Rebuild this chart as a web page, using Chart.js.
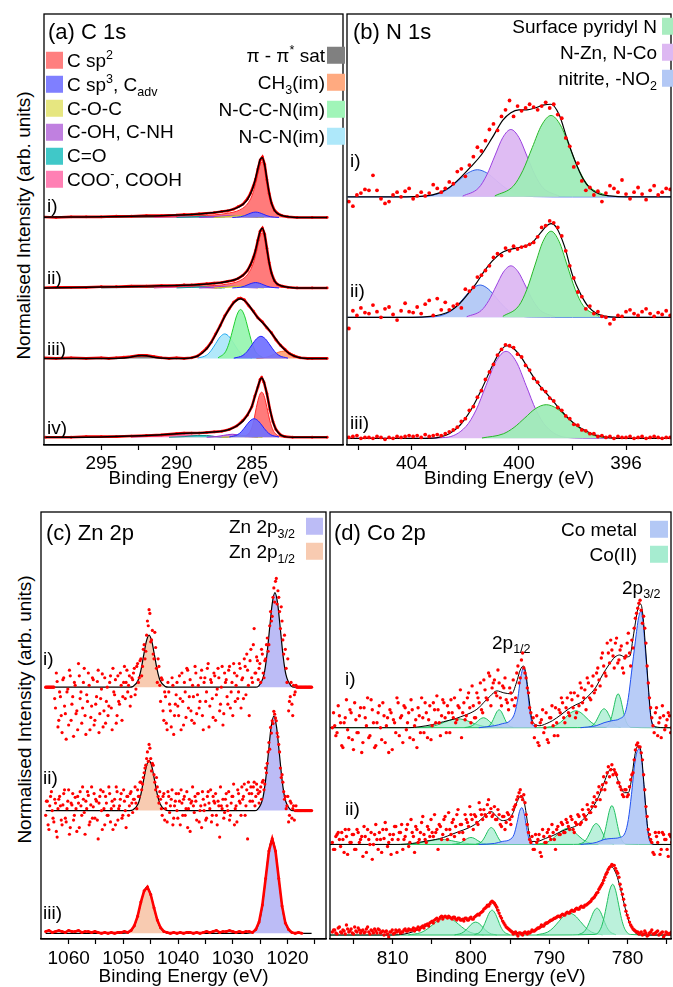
<!DOCTYPE html>
<html>
<head>
<meta charset="utf-8">
<script src="https://cdn.jsdelivr.net/npm/chart.js@4.4.1/dist/chart.umd.min.js"></script>
<style>
  html, body { margin: 0; padding: 0; background: #fff; }
  body { position: relative; width: 673px; height: 987px; overflow: hidden; font-family: "Liberation Sans", Arial, sans-serif; color: #000; }
  canvas { position: absolute; }
  .lbl { position: absolute; transform: translateY(-50%); white-space: nowrap; line-height: 1; z-index: 2; }
  .lbl sub, .lbl sup { font-size: 0.66em; line-height: 0; }
  .box { display: inline-block; width: 17px; height: 17px; vertical-align: middle; }
  .ytitle { position: absolute; width: 320px; text-align: center; font-size: 19px; line-height: 1; transform: rotate(-90deg); white-space: nowrap; }
</style>
</head>
<body>
<canvas id="cA" width="307" height="480" style="left:40px;top:10px"></canvas>
<canvas id="cB" width="332" height="480" style="left:343px;top:10px"></canvas>
<canvas id="cC" width="293" height="480" style="left:37px;top:508px"></canvas>
<canvas id="cD" width="349" height="480" style="left:326px;top:508px"></canvas>
<script>
// ---------- (a) C 1s ----------
const aTicks = [295, 292.5, 290, 287.5, 285, 282.5];
const aLabels = [295, 290, 285];
const aOffsets = [3.81, 2.63, 1.45, 0.13];

const a1Data = [[299,0.01],[298,0],[297,0.01],[296,0.01],[295,0.01],[294,0.02],[293,0.02],[292,0.03],[291,0.03],[290,0.04],[289.5,0.05],[289,0.05],[288.5,0.06],[288,0.07],[287.5,0.08],[287,0.10],[286.6,0.11],[286.2,0.14],[285.9,0.18],[285.6,0.22],[285.3,0.31],[285.1,0.40],[284.9,0.53],[284.75,0.64],[284.6,0.81],[284.45,0.96],[284.3,1.01],[284.15,0.89],[284.0,0.63],[283.85,0.40],[283.7,0.24],[283.5,0.12],[283.3,0.07],[283.0,0.03],[282.6,0.01],[282,0],[281,0],[280,0]];
const a1Fit = [[299,0.005],[297,0.008],[295,0.01],[293,0.02],[291,0.03],[290,0.04],[289,0.05],[288,0.07],[287,0.10],[286.5,0.12],[286,0.16],[285.6,0.22],[285.3,0.30],[285.0,0.45],[284.8,0.61],[284.6,0.82],[284.45,0.97],[284.3,1.0],[284.15,0.88],[284.0,0.64],[283.85,0.41],[283.7,0.24],[283.5,0.12],[283.2,0.05],[282.8,0.02],[282.3,0.005],[281,0],[280,0]];
const a1Sp2 = [[296,0],[292,0.01],[290,0.02],[289,0.025],[288,0.035],[287,0.055],[286.5,0.075],[286,0.105],[285.6,0.155],[285.3,0.225],[285.0,0.36],[284.8,0.52],[284.6,0.74],[284.45,0.89],[284.3,0.93],[284.15,0.83],[284.0,0.61],[283.85,0.39],[283.7,0.23],[283.5,0.11],[283.2,0.045],[282.8,0.015],[282.3,0.004],[281.5,0]];
const a2Data = [[299,0],[298,0.01],[297,0.01],[296,0.01],[295,0.02],[294,0.02],[293,0.03],[292,0.03],[291,0.04],[290,0.04],[289.5,0.05],[289,0.05],[288.5,0.06],[288,0.07],[287.5,0.08],[287,0.09],[286.6,0.11],[286.2,0.13],[285.9,0.16],[285.6,0.21],[285.3,0.29],[285.1,0.38],[284.9,0.51],[284.75,0.63],[284.6,0.80],[284.45,0.95],[284.3,1.0],[284.15,0.90],[284.0,0.66],[283.85,0.42],[283.7,0.25],[283.5,0.12],[283.3,0.06],[283.0,0.03],[282.6,0.01],[282,0],[281,0],[280,0]];
const a2Fit = [[299,0],[295,0.015],[293,0.025],[291,0.035],[290,0.04],[289,0.05],[288,0.065],[287,0.09],[286.5,0.115],[286,0.15],[285.6,0.21],[285.3,0.29],[285.0,0.44],[284.8,0.59],[284.6,0.80],[284.45,0.95],[284.3,1.0],[284.15,0.89],[284.0,0.65],[283.85,0.42],[283.7,0.25],[283.5,0.12],[283.2,0.05],[282.8,0.02],[282.3,0.005],[281,0],[280,0]];
const a2Sp2 = [[292,0.01],[290,0.02],[289,0.025],[288,0.035],[287,0.05],[286.5,0.07],[286,0.10],[285.6,0.15],[285.3,0.22],[285.0,0.35],[284.8,0.50],[284.6,0.72],[284.45,0.87],[284.3,0.92],[284.15,0.83],[284.0,0.61],[283.85,0.39],[283.7,0.23],[283.5,0.11],[283.2,0.045],[282.8,0.015],[282.3,0.004],[281.5,0]];
const a12Sp3 = [[286.3,0],[285.75,0.012],[285.5,0.029],[285.25,0.055],[285.0,0.079],[284.75,0.09],[284.5,0.079],[284.25,0.055],[284.0,0.029],[283.75,0.012],[283.2,0]];
const a12COC = [[287.5,0],[286.8,0.01],[286.2,0.025],[285.7,0.03],[285.2,0.02],[284.7,0.005],[284.2,0]];
const a12COH = [[288.5,0],[287.7,0.01],[287,0.025],[286.4,0.03],[285.8,0.02],[285.2,0.005],[284.6,0]];
const a12CO = [[290,0],[289,0.01],[288.3,0.02],[287.6,0.01],[286.8,0]];
const a12COO = [[291.5,0],[290.5,0.01],[289.5,0.02],[288.8,0.015],[288,0.005],[287.3,0]];
const a12Sat = [[295,0],[293,0.008],[291,0.012],[289,0.008],[287,0]];

const a3Data = [[299,0.01],[298,0],[297,0.01],[296,0],[295,0.01],[294.5,0],[294,0.01],[293.5,0.02],[293,0.03],[292.5,0.05],[292,0.05],[291.5,0.03],[291,0.01],[290.5,0],[290,0.01],[289.5,0],[289,0.01],[288.6,0.04],[288.3,0.10],[288.0,0.17],[287.7,0.27],[287.4,0.41],[287.1,0.55],[286.8,0.71],[286.5,0.83],[286.2,0.94],[285.9,1.0],[285.75,1.01],[285.5,0.98],[285.2,0.88],[284.9,0.79],[284.6,0.68],[284.3,0.61],[284.0,0.51],[283.7,0.43],[283.4,0.31],[283.1,0.22],[282.8,0.15],[282.5,0.08],[282.2,0.04],[281.8,0.01],[281.3,0],[281,0],[280,0]];
const a3Fit = [[299,0],[295,0],[294.1,0],[293.5,0.007],[293.2,0.016],[292.9,0.03],[292.6,0.044],[292.3,0.05],[292.0,0.044],[291.7,0.03],[291.4,0.016],[291.1,0.007],[290.5,0],[289.5,0],[289,0.01],[288.6,0.04],[288.3,0.09],[288.0,0.16],[287.7,0.27],[287.4,0.40],[287.1,0.55],[286.8,0.70],[286.5,0.83],[286.2,0.93],[285.9,0.99],[285.75,1.0],[285.5,0.97],[285.2,0.89],[284.9,0.78],[284.6,0.68],[284.3,0.60],[284.0,0.52],[283.7,0.42],[283.4,0.32],[283.1,0.22],[282.8,0.14],[282.5,0.08],[282.2,0.04],[281.8,0.01],[281.3,0],[280,0]];
const a3NCN = [[288.6,0.005],[288.0,0.055],[287.7,0.133],[287.4,0.249],[287.1,0.362],[286.8,0.41],[286.5,0.362],[286.2,0.249],[285.9,0.133],[285.6,0.055],[285.0,0.005]];
const a3NCCN = [[287.25,0.009],[286.75,0.111],[286.5,0.266],[286.25,0.498],[286.0,0.723],[285.75,0.82],[285.5,0.723],[285.25,0.498],[285.0,0.266],[284.75,0.111],[284.25,0.009]];
const a3Sp3 = [[286.2,0.004],[285.6,0.05],[285.3,0.12],[285.0,0.225],[284.7,0.326],[284.4,0.37],[284.1,0.326],[283.8,0.225],[283.5,0.12],[283.2,0.05],[282.6,0.004]];
const a3CH3 = [[284.7,0.001],[284.1,0.016],[283.8,0.039],[283.5,0.073],[283.2,0.106],[282.9,0.12],[282.6,0.106],[282.3,0.073],[282.0,0.039],[281.7,0.016],[281.1,0]];
const a3Sat = [[294.1,0],[293.5,0.007],[293.2,0.016],[292.9,0.03],[292.6,0.044],[292.3,0.05],[292.0,0.044],[291.7,0.03],[291.4,0.016],[291.1,0.007],[290.5,0]];

const a4Data = [[298.7,0],[297,0],[296,0.01],[295,0.01],[294,0.01],[293,0.02],[292,0.03],[291,0.04],[290,0.06],[289.5,0.07],[289,0.07],[288.5,0.07],[288,0.08],[287.5,0.09],[287,0.10],[286.5,0.13],[286.0,0.19],[285.6,0.28],[285.3,0.37],[285.0,0.51],[284.8,0.69],[284.6,0.84],[284.45,0.97],[284.35,1.0],[284.2,0.92],[284.0,0.73],[283.8,0.46],[283.6,0.26],[283.4,0.13],[283.1,0.04],[282.8,0.01],[282.3,0],[281,0],[280,0]];
const a4Fit = [[298.7,0],[297,0],[295,0.005],[293,0.02],[292,0.03],[291,0.04],[290,0.06],[289,0.07],[288,0.08],[287,0.10],[286.5,0.13],[286.0,0.19],[285.6,0.27],[285.3,0.37],[285.0,0.52],[284.8,0.68],[284.6,0.85],[284.45,0.96],[284.35,0.99],[284.2,0.93],[284.0,0.72],[283.8,0.47],[283.6,0.26],[283.4,0.13],[283.1,0.04],[282.8,0.01],[282.3,0],[280,0]];
const a4Sp2 = [[285.5,0.01],[285.1,0.10],[284.9,0.25],[284.7,0.50],[284.5,0.70],[284.35,0.755],[284.2,0.70],[284.0,0.50],[283.8,0.27],[283.6,0.12],[283.4,0.05],[283.1,0.01],[282.8,0]];
const a4Sp3 = [[286.5,0.004],[285.95,0.042],[285.675,0.10],[285.4,0.188],[285.125,0.273],[284.85,0.31],[284.575,0.273],[284.3,0.188],[284.025,0.10],[283.75,0.042],[283.2,0.004]];
const a4COH = [[288,0],[287.4,0.01],[286.9,0.03],[286.3,0.05],[285.7,0.03],[285.2,0.01],[284.6,0]];
const a4COO = [[293,0],[292,0.01],[291,0.025],[290,0.04],[289.5,0.04],[289,0.035],[288,0.02],[287,0.005],[286.5,0]];
const a4CO = [[290.5,0],[289.5,0.01],[288.6,0.03],[288,0.03],[287.4,0.01],[286.6,0]];
const a4COC = [[287,0],[286.3,0.01],[285.8,0.03],[285.3,0.02],[284.8,0.005],[284.3,0]];

// ---------- (b) N 1s ----------
const bTicks = [406, 404, 402, 400, 398, 396];
const bLabels = [404, 400, 396];
const bOffsets = [2.652, 1.365, 0.071];
const bStart = 406.35, bStep = 0.15;
const b1Data = [-0.05,-0.10,0.02,0.04,0.08,0.07,0.23,0.07,-0.02,-0.07, -0.05,0.02,0.05,0.00,0.06,0.09,-0.02,0.01,0.05,0.01, 0.04,0.13,0.09,0.05,0.09,0.16,0.14,0.27,0.30,0.22, 0.34,0.43,0.53,0.49,0.60,0.72,0.78,0.71,0.86,0.93, 1.03,0.86,0.97,0.92,0.95,0.99,0.96,0.93,0.97,1.01, 0.95,0.99,0.88,0.84,0.63,0.54,0.32,0.36,0.17,0.07, 0.10,0.02,0.06,-0.05,0.04,0.12,0.09,0.05,0.18,0.03, -0.02,0.05,0.10,0.03,-0.03,0.07,0.12,0.02,0.05,0.09, 0.08];
const b2Data = [-0.12,0.07,0.02,0.10,0.05,0.04,0.13,0.06,0.00,0.09, 0.11,0.03,-0.03,0.07,0.15,0.06,0.05,0.11,0.04,0.14, 0.18,0.02,0.20,0.08,0.16,0.08,0.12,0.14,0.10,0.30, 0.28,0.32,0.43,0.45,0.50,0.55,0.64,0.68,0.66,0.74, 0.71,0.76,0.73,0.75,0.76,0.78,0.80,0.86,0.96,0.98, 1.03,1.01,0.96,0.87,0.71,0.55,0.42,0.27,0.22,0.09, 0.12,0.04,0.06,0.01,0.00,-0.07,-0.02,0.02,0.01,0.06, 0.08,0.04,0.02,0.06,0.09,0.04,0.01,0.05,0.03,0.07, 0.02];
const b3Data = [0.01,0.02,0.03,0.00,0.01,0.01,0.00,0.02,0.01,-0.01, 0.01,0.00,0.02,0.01,0.02,0.03,0.02,0.03,0.01,0.04, 0.02,0.03,0.04,0.03,0.05,0.07,0.09,0.12,0.18,0.21, 0.30,0.34,0.44,0.51,0.63,0.71,0.79,0.89,0.95,1.00, 0.99,0.97,0.90,0.87,0.78,0.73,0.64,0.60,0.53,0.50, 0.43,0.40,0.33,0.30,0.24,0.21,0.15,0.14,0.09,0.08, 0.05,0.05,0.02,0.03,0.01,0.02,0.00,0.02,0.01,0.01, 0.02,0.00,0.01,0.02,0.00,0.01,0.02,0.01,0.00,0.01, 0.01];
const b1Fit = [[406.4,0],[404.5,0],[403.5,0.01],[403.0,0.04],[402.6,0.10],[402.2,0.20],[401.8,0.32],[401.4,0.45],[401.0,0.63],[400.6,0.82],[400.3,0.90],[400.0,0.93],[399.7,0.93],[399.4,0.95],[399.1,0.98],[398.8,0.99],[398.5,0.88],[398.2,0.62],[397.9,0.38],[397.6,0.19],[397.3,0.08],[397.0,0.03],[396.6,0.01],[396.0,0],[394.3,0]];
const b1Pyr = [[400.9,0.01],[400.2,0.118],[399.85,0.283],[399.5,0.528],[399.15,0.767],[398.8,0.87],[398.45,0.767],[398.1,0.528],[397.75,0.283],[397.4,0.118],[396.7,0.01]];
const b1NZn = [[402.1,0.008],[401.5,0.097],[401.2,0.234],[400.9,0.437],[400.6,0.635],[400.3,0.72],[400.0,0.635],[399.7,0.437],[399.4,0.234],[399.1,0.097],[398.5,0.008]];
const b1NO2 = [[406.4,0],[404.5,0],[403.65,0.003],[402.95,0.039],[402.6,0.094],[402.25,0.176],[401.9,0.256],[401.55,0.29],[401.2,0.256],[400.85,0.176],[400.5,0.094],[400.15,0.039],[399.45,0.003],[398,0],[394.3,0]];
const b2Fit = [[406.4,0],[404,0],[403.3,0.01],[402.9,0.03],[402.55,0.07],[402.2,0.15],[401.9,0.25],[401.6,0.36],[401.3,0.49],[401.0,0.60],[400.7,0.68],[400.4,0.72],[400.1,0.74],[399.8,0.76],[399.5,0.80],[399.2,0.90],[398.95,0.98],[398.8,1.0],[398.6,0.96],[398.3,0.76],[398.0,0.45],[397.7,0.25],[397.4,0.11],[397.1,0.04],[396.8,0.012],[396.3,0],[394.3,0]];
const b2Pyr = [[400.6,0.01],[400.0,0.124],[399.7,0.299],[399.4,0.558],[399.1,0.811],[398.8,0.92],[398.5,0.811],[398.2,0.558],[397.9,0.299],[397.6,0.124],[397.0,0.01]];
const b2NZn = [[401.95,0.006],[401.4,0.074],[401.125,0.179],[400.85,0.334],[400.575,0.485],[400.3,0.55],[400.025,0.485],[399.75,0.334],[399.475,0.179],[399.2,0.074],[398.65,0.006]];
const b2NO2 = [[406.4,0],[404.5,0],[403.25,0.004],[402.65,0.047],[402.35,0.112],[402.05,0.209],[401.75,0.304],[401.45,0.345],[401.15,0.304],[400.85,0.209],[400.55,0.112],[400.25,0.047],[399.65,0.004],[398,0],[394.3,0]];
const b3Fit = [[406.4,0],[403.5,0],[403.0,0.01],[402.6,0.05],[402.2,0.14],[401.8,0.30],[401.4,0.52],[401.0,0.77],[400.7,0.93],[400.45,0.99],[400.2,0.96],[399.9,0.86],[399.6,0.72],[399.3,0.59],[399.0,0.49],[398.7,0.39],[398.4,0.29],[398.1,0.20],[397.8,0.13],[397.5,0.08],[397.2,0.04],[396.8,0.015],[396.3,0],[394.3,0]];
const b3NZn = [[406.4,0],[404,0],[402.73,0.01],[401.98,0.126],[401.6,0.302],[401.23,0.564],[400.86,0.82],[400.48,0.93],[400.1,0.82],[399.73,0.564],[399.36,0.302],[398.98,0.126],[398.23,0.01],[397,0],[394.3,0]];
const b3Pyr = [[401.38,0.004],[400.58,0.049],[400.18,0.117],[399.78,0.218],[399.38,0.318],[398.98,0.36],[398.58,0.318],[398.18,0.218],[397.78,0.117],[397.38,0.049],[396.58,0.004],[395,0],[394.3,0]];

// ---------- (c) Zn 2p ----------
const cTicks = [1060, 1055, 1050, 1045, 1040, 1035, 1030, 1025, 1020, 1015];
const cLabels = [1060, 1050, 1040, 1030, 1020];
const cOffsets = [2.663, 1.358, 0.06];
const cStart = 1064.2, cStartB = 1064.05, cStep = 0.3, c3Step = 0.6;
const c1Data = [0,0,0,0,0,0,-0.22,0.06,-0.35,-0.10,
 -0.48,0.10,-0.28,-0.05,-0.40,0.12,-0.18,-0.52,0.02,-0.25,
 0.25,-0.12,-0.38,0.05,-0.30,-0.08,0.15,-0.45,-0.20,0.08,
 -0.35,-0.10,0.18,-0.28,-0.02,-0.42,0.10,-0.15,-0.30,0.05,
 -0.22,0.20,-0.08,-0.38,0.12,-0.18,0.02,-0.10,0.22,0.05,
 -0.05,0.12,-0.10,0.08,0.20,-0.02,0.25,0.10,0.30,0.22,
 0.45,0.38,0.70,0.82,0.48,0.60,0.30,0.42,0.05,0.22,
 -0.15,0.08,-0.35,-0.10,-0.45,-0.05,-0.25,0.10,-0.50,-0.18,
 0.05,-0.30,-0.12,0.15,-0.40,-0.05,0.20,-0.22,0.08,-0.35,
 -0.10,0.22,-0.28,0.02,-0.15,0.18,-0.45,0.10,-0.05,0.25,
 -0.20,0.05,-0.32,0.12,-0.08,0.20,-0.25,0.00,-0.40,0.15,
 0.08,-0.18,0.22,-0.05,-0.30,0.15,0.02,-0.12,0.25,-0.22,
 0.10,0.30,-0.08,0.18,-0.30,0.40,0.05,0.62,0.15,0.28,
 0.20,0.05,0.35,0.10,0.30,0.52,0.45,0.80,0.75,1.05,
 1.12,0.88,0.95,0.62,0.70,0.35,0.40,0.05,-0.25,-0.10,
 -0.18,0.02,-0.05,0,0,0,0,0,0,0,0,0,0];
const c1DataB = [0,0,0,0,0,-0.12,0.15,-0.42,-0.05,-0.30,
 0.08,-0.20,-0.55,-0.02,0.18,-0.35,-0.10,0.05,-0.28,-0.45,
 0.12,-0.05,-0.22,0.20,-0.50,-0.15,0.02,-0.32,0.10,-0.40,
 -0.18,0.06,-0.48,-0.12,0.14,-0.25,-0.38,0.00,-0.20,0.12,
 -0.45,-0.05,0.08,-0.30,-0.15,0.15,-0.35,0.05,-0.12,0.18,
 0.02,-0.20,0.10,0.15,-0.08,0.22,0.05,0.28,0.12,0.40,
 0.30,0.55,0.65,0.78,0.50,0.35,0.58,0.20,0.30,0.02,
 0.10,-0.25,-0.05,-0.38,0.05,-0.18,-0.42,0.02,-0.30,-0.08,
 -0.20,0.12,-0.45,-0.15,0.05,-0.32,0.18,-0.10,-0.25,0.02,
 -0.38,0.15,-0.08,-0.22,0.10,-0.30,0.05,-0.15,0.20,-0.42,
 0.08,-0.12,0.15,-0.35,-0.02,0.10,-0.18,0.22,-0.28,0.05,
 -0.10,0.18,-0.22,0.05,0.25,-0.15,0.12,-0.05,0.20,0.08,
 -0.12,0.22,0.35,0.02,0.28,0.10,0.45,0.15,0.32,0.08,
 0.25,0.40,0.15,0.28,0.45,0.38,0.65,0.70,0.95,0.90,
 1.15,1.02,0.80,0.85,0.50,0.55,0.20,0.30,-0.15,0.05,
 -0.30,-0.08,0.02,0,0,0,0,0,0,0,0,0];
const c2Data = [-0.05,0.10,-0.20,0.15,0.00,-0.12,0.08,-0.28,0.12,0.05,
 -0.15,0.18,-0.08,0.02,0.22,-0.18,0.06,-0.10,0.14,-0.22,
 0.08,0.20,-0.05,0.12,-0.25,0.02,0.16,-0.12,0.25,0.04,
 -0.08,0.10,-0.30,0.15,0.00,0.20,-0.15,0.08,-0.05,0.18,
 0.02,-0.20,0.12,0.25,-0.10,0.05,0.18,-0.05,0.10,-0.18,
 0.15,0.05,0.20,-0.02,0.12,0.08,0.22,0.15,0.30,0.28,
 0.40,0.48,0.62,0.70,0.55,0.50,0.38,0.22,0.25,0.08,
 0.12,-0.05,0.18,0.02,-0.12,0.15,0.05,0.22,-0.08,0.10,
 0.00,0.18,-0.15,0.08,0.12,-0.05,0.20,0.02,-0.22,0.10,
 0.05,0.15,-0.10,0.18,0.00,-0.18,0.12,0.06,-0.08,0.20,
 0.02,-0.12,0.15,0.08,-0.05,0.10,-0.28,0.05,0.12,-0.02,
 0.18,0.00,-0.10,0.08,0.15,-0.15,0.05,0.22,0.10,-0.05,
 0.12,0.28,0.05,-0.30,0.18,0.25,0.10,0.30,0.15,0.22,
 0.08,0.25,0.30,0.22,0.45,0.50,0.72,0.88,0.95,1.05,
 0.98,0.82,0.70,0.45,0.38,0.20,0.15,0.05,-0.12,0.10,
 -0.08,0.05,0.00,0,0,0,0,0,0,0,0,0,0];
const c2DataB = [0.10,-0.15,0.05,0.20,-0.08,0.12,-0.22,0.02,0.15,-0.10,
 0.06,0.22,-0.12,0.10,-0.25,0.08,0.18,-0.05,0.02,0.15,
 -0.18,0.05,0.25,-0.02,0.10,0.20,-0.15,0.06,-0.08,0.18,
 0.12,-0.10,0.08,0.22,-0.20,0.02,0.15,-0.05,0.25,-0.12,
 0.10,0.05,-0.15,0.20,0.02,0.12,-0.08,0.22,0.00,0.15,
 -0.05,0.18,0.08,0.12,0.25,0.02,0.15,0.30,0.22,0.35,
 0.45,0.55,0.52,0.66,0.42,0.48,0.30,0.35,0.15,0.20,
 0.02,0.15,-0.10,0.08,0.20,-0.02,0.12,-0.15,0.05,0.18,
 -0.08,0.10,0.22,-0.05,0.15,0.02,-0.18,0.12,0.08,0.25,
 -0.02,0.10,0.18,-0.12,0.05,0.20,0.00,-0.10,0.15,0.08,
 0.22,-0.05,0.10,0.18,-0.15,0.05,0.25,0.02,-0.08,0.12,
 0.05,0.20,-0.05,0.15,0.28,0.02,-0.12,0.18,0.08,0.25,
 0.15,-0.05,0.22,0.30,0.10,0.18,0.25,0.05,0.28,0.18,
 0.20,0.12,0.32,0.28,0.40,0.62,0.65,0.82,0.92,1.02,
 0.95,0.78,0.62,0.35,0.30,0.12,0.02,0.15,-0.05,0.08,
 0.02,-0.10,0.05,0,0,0,0,0,0,0,0,0];
const c3Data = [0.02,0.03,0.01,0.02,0.03,0.02,0.01,0.03,0.02,0.02,
 0.03,0.01,0.02,0.02,0.01,0.02,0.01,0.00,0.01,0.00,
 0.01,0.00,0.01,0.01,0.02,0.01,0.03,0.08,0.18,0.33,
 0.45,0.49,0.41,0.27,0.14,0.06,0.02,0.01,0.00,0.01,
 0.00,0.01,0.00,0.01,0.01,0.00,0.01,0.00,0.01,0.02,
 0.01,0.02,0.03,0.01,0.02,0.02,0.03,0.02,0.01,0.02,
 0.01,0.02,0.02,0.01,0.04,0.12,0.30,0.58,0.87,1.00,
 0.87,0.58,0.29,0.11,0.04,0.01,0.00,0.01,0.00];
const c1Fit = [[1064.2,0],[1048.8,0],[1048.3,0.006],[1047.3,0.074],[1046.8,0.179],[1046.3,0.334],[1045.8,0.485],[1045.3,0.55],[1044.8,0.485],[1044.3,0.334],[1043.8,0.179],[1043.3,0.074],[1042.3,0.006],[1041.8,0],[1025.8,0],[1025.3,0.011],[1024.3,0.135],[1023.8,0.325],[1023.3,0.607],[1022.8,0.882],[1022.3,1.0],[1021.8,0.882],[1021.3,0.607],[1020.8,0.325],[1020.3,0.135],[1019.3,0.011],[1018.8,0],[1015.6,0]];
const c1P32 = [[1025.3,0.011],[1024.3,0.135],[1023.8,0.325],[1023.3,0.607],[1022.8,0.882],[1022.3,1.0],[1021.8,0.882],[1021.3,0.607],[1020.8,0.325],[1020.3,0.135],[1019.3,0.011]];
const c1P12 = [[1048.3,0.006],[1047.3,0.074],[1046.8,0.179],[1046.3,0.334],[1045.8,0.485],[1045.3,0.55],[1044.8,0.485],[1044.3,0.334],[1043.8,0.179],[1043.3,0.074],[1042.3,0.006]];
const c2Fit = [[1064.2,0],[1048.8,0],[1048.3,0.006],[1047.3,0.072],[1046.8,0.172],[1046.3,0.322],[1045.8,0.467],[1045.3,0.53],[1044.8,0.467],[1044.3,0.322],[1043.8,0.172],[1043.3,0.072],[1042.3,0.006],[1041.8,0],[1026,0],[1025.5,0.011],[1024.5,0.135],[1024.0,0.325],[1023.5,0.607],[1023.0,0.882],[1022.5,1.0],[1022.0,0.882],[1021.5,0.607],[1021.0,0.325],[1020.5,0.135],[1019.5,0.011],[1019,0],[1015.6,0]];
const c2P32 = [[1025.5,0.011],[1024.5,0.135],[1024.0,0.325],[1023.5,0.607],[1023.0,0.882],[1022.5,1.0],[1022.0,0.882],[1021.5,0.607],[1021.0,0.325],[1020.5,0.135],[1019.5,0.011]];
const c2P12 = [[1048.3,0.006],[1047.3,0.072],[1046.8,0.172],[1046.3,0.322],[1045.8,0.467],[1045.3,0.53],[1044.8,0.467],[1044.3,0.322],[1043.8,0.172],[1043.3,0.072],[1042.3,0.006]];
const c3Fit = [[1064.2,0],[1050.5,0],[1049.3,0.005],[1048.1,0.066],[1047.5,0.159],[1046.9,0.297],[1046.3,0.432],[1045.7,0.49],[1045.1,0.432],[1044.5,0.297],[1043.9,0.159],[1043.3,0.066],[1042.1,0.005],[1041,0],[1027.5,0],[1026.25,0.011],[1025.1,0.135],[1024.53,0.325],[1023.95,0.607],[1023.38,0.882],[1022.8,1.0],[1022.23,0.882],[1021.65,0.607],[1021.08,0.325],[1020.5,0.135],[1019.35,0.011],[1018,0],[1015.6,0]];
const c3P32 = [[1026.25,0.011],[1025.1,0.135],[1024.53,0.325],[1023.95,0.607],[1023.38,0.882],[1022.8,1.0],[1022.23,0.882],[1021.65,0.607],[1021.08,0.325],[1020.5,0.135],[1019.35,0.011]];
const c3P12 = [[1049.3,0.005],[1048.1,0.066],[1047.5,0.159],[1046.9,0.297],[1046.3,0.432],[1045.7,0.49],[1045.1,0.432],[1044.5,0.297],[1043.9,0.159],[1043.3,0.066],[1042.1,0.005]];

// ---------- (d) Co 2p ----------
const dTicks = [815, 810, 805, 800, 795, 790, 785, 780, 775];
const dLabels = [810, 800, 790, 780];
const dOffsets = [2.123, 0.95, 0.04];
const dStart = 817.7, dStartB = 817.55, dStep = 0.3;
const d1Data = [0.00,0.02,-0.05,0.12,-0.18,0.05,0.28,-0.10,0.15,-0.22,
 0.08,-0.05,0.20,-0.15,0.10,0.30,-0.08,0.18,-0.20,0.05,
 0.22,-0.12,0.12,0.02,-0.25,0.15,0.08,-0.05,0.25,0.10,
 -0.15,0.20,0.05,-0.10,0.18,0.02,-0.20,0.12,0.30,-0.05,
 0.15,0.08,-0.12,0.25,0.05,0.18,-0.08,0.28,0.10,0.22,
 -0.05,0.15,0.30,0.08,0.20,-0.10,0.25,0.12,0.35,0.05,
 0.22,0.10,0.30,0.45,0.15,0.38,0.28,0.52,0.40,0.48,
 0.32,0.45,0.22,0.40,0.28,0.18,0.35,0.48,0.30,0.62,
 0.50,0.75,0.55,0.40,0.20,0.05,-0.10,0.12,-0.18,0.08,
 -0.05,0.15,-0.15,0.10,0.02,0.20,-0.08,0.15,0.25,0.05,
 0.30,0.12,0.28,0.35,0.15,0.22,0.40,0.30,0.18,0.45,
 0.28,0.52,0.38,0.60,0.42,0.75,0.55,0.85,0.65,0.78,
 0.60,0.90,0.68,0.82,0.55,0.72,0.95,0.62,0.80,1.10,
 1.20,1.28,1.05,1.00,0.62,0.30,0.10,-0.05,0.20,0.05,
 -0.10,0.12,0.02,0.15,-0.05];
const d1DataB = [0.15,-0.08,0.22,0.05,-0.20,0.10,-0.02,0.18,-0.12,0.25,
 -0.05,0.12,-0.25,0.20,0.02,-0.10,0.28,0.05,-0.18,0.15,
 0.00,0.25,-0.15,0.10,0.18,-0.22,0.05,0.30,-0.08,0.12,
 0.22,-0.02,0.15,0.28,-0.12,0.08,0.20,-0.05,0.10,0.25,
 -0.10,0.22,0.02,0.18,0.32,0.05,0.12,0.25,-0.05,0.15,
 0.28,0.10,0.05,0.22,0.38,0.15,0.08,0.30,0.20,0.42,
 0.10,0.35,0.25,0.18,0.48,0.30,0.55,0.22,0.45,0.35,
 0.58,0.30,0.42,0.50,0.25,0.40,0.28,0.22,0.55,0.45,
 0.68,0.60,0.50,0.35,0.15,0.10,0.02,-0.15,0.05,0.18,
 0.00,-0.12,0.10,0.22,-0.08,0.05,0.18,0.30,0.10,0.20,
 0.15,0.35,0.20,0.10,0.32,0.45,0.25,0.38,0.50,0.30,
 0.42,0.35,0.55,0.48,0.70,0.62,0.52,0.75,0.88,0.72,
 0.85,0.65,0.78,0.60,0.70,0.85,0.75,0.88,1.00,1.15,
 1.25,1.18,1.12,0.85,0.45,0.20,0.02,0.15,-0.08,0.10,
 0.22,-0.02,0.08,0.12,0.00];
const d2Data = [0.02,-0.05,0.10,0.05,0.12,-0.08,0.08,0.15,0.02,0.10,
 -0.05,0.12,0.05,-0.12,0.08,0.15,0.00,-0.15,0.10,0.05,
 0.12,-0.08,0.06,0.15,0.02,-0.10,0.10,0.18,0.05,0.12,
 -0.05,0.08,0.20,0.02,0.12,-0.08,0.15,0.05,0.22,0.10,
 0.02,0.15,0.25,0.08,0.12,-0.05,0.18,0.10,0.28,0.05,
 0.15,0.22,0.08,0.30,0.12,0.20,0.05,0.25,0.18,0.30,
 0.15,0.28,0.20,0.35,0.25,0.30,0.40,0.32,0.28,0.38,
 0.25,0.30,0.18,0.28,0.22,0.30,0.20,0.35,0.40,0.48,
 0.55,0.45,0.42,0.20,0.05,0.08,-0.05,0.02,0.10,-0.12,
 0.08,0.02,0.15,0.05,0.12,-0.05,0.18,0.10,0.20,0.12,
 0.22,0.15,0.25,0.12,0.20,0.28,0.22,0.30,0.25,0.35,
 0.32,0.42,0.38,0.52,0.45,0.60,0.55,0.72,0.68,0.80,
 0.75,0.70,0.62,0.55,0.48,0.55,0.50,0.65,0.72,0.95,
 1.02,0.98,0.85,0.55,0.28,0.10,0.02,-0.10,0.08,0.12,
 -0.05,0.10,0.05,-0.12,0.08];
const d2DataB = [-0.05,0.08,0.12,-0.02,0.05,0.15,-0.10,0.02,0.10,-0.05,
 0.15,0.02,0.08,0.18,-0.08,0.05,0.12,0.00,0.20,-0.05,
 0.05,0.15,0.22,-0.02,0.10,0.05,0.18,-0.08,0.12,0.20,
 0.05,0.15,-0.02,0.25,0.08,0.18,0.02,0.12,0.28,0.05,
 0.18,0.08,0.12,0.30,0.15,0.20,0.05,0.25,0.15,0.32,
 0.10,0.25,0.18,0.35,0.20,0.12,0.30,0.22,0.38,0.25,
 0.30,0.22,0.42,0.30,0.35,0.28,0.45,0.36,0.30,0.25,
 0.35,0.20,0.28,0.15,0.32,0.25,0.28,0.38,0.45,0.52,
 0.48,0.50,0.30,0.12,0.02,-0.05,0.10,0.05,-0.08,0.15,
 0.02,0.12,0.08,0.20,0.05,0.15,0.10,0.22,0.12,0.25,
 0.18,0.28,0.15,0.22,0.30,0.20,0.35,0.28,0.40,0.32,
 0.38,0.48,0.45,0.58,0.55,0.68,0.62,0.78,0.75,0.70,
 0.72,0.62,0.58,0.50,0.55,0.48,0.58,0.70,0.85,1.00,
 0.98,0.92,0.70,0.38,0.15,0.05,-0.08,0.12,0.02,-0.10,
 0.12,0.05,-0.05,0.10,0.02];
const d3Data = [0.03,0.05,0.01,0.08,0.02,0.04,0.10,0.03,0.06,0.01,
 0.04,0.07,0.02,0.05,0.03,0.08,0.01,0.04,0.06,0.02,
 0.05,0.03,0.00,0.04,-0.02,0.03,0.01,0.05,0.04,0.02,
 0.03,0.06,0.04,0.05,0.05,0.04,0.06,0.05,0.08,0.07,
 0.10,0.09,0.13,0.12,0.16,0.14,0.18,0.16,0.19,0.17,
 0.18,0.16,0.18,0.15,0.17,0.15,0.14,0.17,0.15,0.18,
 0.16,0.19,0.21,0.22,0.24,0.27,0.30,0.31,0.34,0.32,
 0.28,0.22,0.17,0.12,0.08,0.06,0.04,0.01,0.03,-0.01,
 0.02,0.00,0.03,0.01,0.02,0.05,0.04,0.06,0.07,0.10,
 0.09,0.12,0.13,0.15,0.16,0.17,0.19,0.18,0.21,0.20,
 0.23,0.22,0.25,0.24,0.27,0.26,0.29,0.28,0.30,0.32,
 0.34,0.37,0.40,0.43,0.48,0.52,0.58,0.63,0.68,0.71,
 0.70,0.64,0.58,0.46,0.36,0.24,0.17,0.10,0.06,0.04,
 0.03,0.02,0.00,0.04,-0.01,0.02,0.05,0.01,0.03,0.00,
 0.02,-0.02,0.03,0.01,0.02];
const d3DataB = [0.05,0.02,0.07,0.03,0.05,0.01,0.06,0.04,0.02,0.08,
 0.03,0.05,0.04,0.02,0.06,0.03,0.05,0.02,0.04,0.06,
 0.02,0.04,0.03,0.01,0.03,0.05,0.02,0.03,0.05,0.03,
 0.05,0.04,0.06,0.05,0.07,0.06,0.08,0.07,0.09,0.10,
 0.11,0.12,0.14,0.15,0.17,0.16,0.19,0.18,0.18,0.19,
 0.17,0.18,0.16,0.17,0.15,0.16,0.17,0.15,0.17,0.16,
 0.18,0.20,0.20,0.23,0.26,0.28,0.29,0.33,0.33,0.30,
 0.25,0.19,0.14,0.10,0.07,0.05,0.03,0.02,0.01,0.02,
 0.01,0.02,0.02,0.03,0.03,0.04,0.05,0.07,0.08,0.09,
 0.11,0.12,0.14,0.15,0.17,0.18,0.19,0.20,0.20,0.22,
 0.22,0.24,0.24,0.26,0.26,0.28,0.28,0.30,0.31,0.33,
 0.36,0.38,0.42,0.46,0.50,0.55,0.61,0.66,0.69,0.70,
 0.67,0.62,0.51,0.41,0.30,0.20,0.13,0.08,0.05,0.03,
 0.01,0.03,0.01,0.02,0.00,0.03,0.01,0.02,0.04,0.01,
 0.03,0.00,0.02,0.01,0.03];
const d1Fit = [[818,0],[808,0],[806.5,0.01],[805,0.03],[803.5,0.06],[802,0.09],[801.3,0.11],[800,0.15],[799,0.20],[798.4,0.25],[797.5,0.32],[796.7,0.37],[795.8,0.35],[794.8,0.34],[794.2,0.45],[793.7,0.58],[793.3,0.62],[793.0,0.55],[792.6,0.30],[792.2,0.08],[791.7,0.03],[791.2,0.02],[790.4,0.04],[789.6,0.07],[788.5,0.13],[787.5,0.19],[786.6,0.23],[785.8,0.26],[785.0,0.32],[784.1,0.40],[783.2,0.53],[782.4,0.63],[781.6,0.71],[781.0,0.73],[780.3,0.71],[779.7,0.72],[779.3,0.90],[778.9,1.10],[778.6,1.22],[778.3,1.24],[778.0,1.10],[777.7,0.80],[777.35,0.42],[777.1,0.17],[776.9,0.05],[776.5,0.01],[775,0],[774.4,0]];
const d1Met32 = [[786,0],[784,0.02],[783,0.05],[782,0.07],[781,0.09],[780.3,0.15],[779.9,0.30],[779.5,0.55],[779.0,0.87],[778.6,1.10],[778.3,1.17],[778.0,1.04],[777.7,0.75],[777.35,0.40],[777.1,0.15],[776.8,0.04],[776.4,0]];
const d1Met12 = [[799,0],[797,0.02],[796,0.04],[795,0.07],[794.4,0.15],[794.0,0.30],[793.7,0.48],[793.3,0.60],[793.0,0.52],[792.7,0.32],[792.4,0.12],[792.1,0.03],[791.7,0]];
const d1Co32 = [[818,0],[790,0],[782.85,0.004],[782.3,0.046],[782.03,0.11],[781.75,0.206],[781.48,0.30],[781.2,0.34],[780.93,0.30],[780.65,0.206],[780.38,0.11],[780.1,0.046],[779.55,0.004],[777,0],[774.4,0]];
const d1Sat1 = [[785.1,0.002],[784.4,0.026],[784.05,0.062],[783.7,0.115],[783.35,0.168],[783.0,0.19],[782.65,0.168],[782.3,0.115],[781.95,0.062],[781.6,0.026],[780.9,0.002]];
const d1Sat2 = [[790.5,0.002],[789.2,0.023],[788.55,0.055],[787.9,0.103],[787.25,0.15],[786.6,0.17],[785.95,0.15],[785.3,0.103],[784.65,0.055],[784.0,0.023],[782.7,0.002]];
const d1Co12 = [[798.2,0.002],[797.6,0.024],[797.3,0.058],[797.0,0.109],[796.7,0.159],[796.4,0.18],[796.1,0.159],[795.8,0.109],[795.5,0.058],[795.2,0.024],[794.6,0.002]];
const d1Sat3 = [[800.8,0.001],[800.0,0.014],[799.6,0.033],[799.2,0.061],[798.8,0.088],[798.4,0.10],[798.0,0.088],[797.6,0.061],[797.2,0.033],[796.8,0.014],[796.0,0.001]];
const d1Sat4 = [[806.8,0.001],[805.1,0.012],[804.25,0.029],[803.4,0.055],[802.55,0.079],[801.7,0.09],[800.85,0.079],[800.0,0.055],[799.15,0.029],[798.3,0.012],[796.6,0.001]];
const d2Fit = [[818,0],[809,0],[807.5,0.01],[806,0.03],[804.5,0.05],[803.5,0.07],[802.5,0.10],[801.5,0.13],[800.5,0.16],[799.5,0.20],[798.6,0.26],[797.9,0.31],[797.4,0.33],[796.7,0.28],[796.0,0.24],[795.3,0.25],[794.6,0.32],[794.1,0.43],[793.6,0.49],[793.3,0.46],[793.0,0.34],[792.6,0.12],[792.2,0.03],[791.6,0.03],[790.5,0.06],[789.5,0.09],[788.5,0.13],[787.5,0.16],[786.5,0.19],[785.8,0.24],[785.0,0.31],[784.3,0.39],[783.7,0.48],[783.0,0.62],[782.5,0.72],[782.1,0.76],[781.6,0.72],[781.0,0.60],[780.4,0.52],[779.9,0.52],[779.5,0.65],[779.1,0.88],[778.8,0.98],[778.5,0.99],[778.2,0.88],[777.9,0.60],[777.6,0.30],[777.3,0.09],[777.0,0.02],[776.5,0],[774.4,0]];
const d2Met32 = [[786,0],[784,0.02],[783,0.05],[782,0.06],[781,0.07],[780.3,0.12],[779.9,0.25],[779.5,0.50],[779.1,0.80],[778.8,0.93],[778.5,0.96],[778.2,0.85],[777.9,0.58],[777.6,0.28],[777.3,0.08],[777.0,0.01],[776.6,0]];
const d2Met12 = [[799,0],[797,0.01],[796,0.03],[795,0.05],[794.5,0.10],[794.1,0.22],[793.8,0.33],[793.5,0.37],[793.2,0.31],[792.9,0.17],[792.6,0.06],[792.3,0.01],[791.9,0]];
const d2Co32 = [[818,0],[790,0],[783.8,0.004],[783.2,0.053],[782.9,0.127],[782.6,0.237],[782.3,0.344],[782.0,0.39],[781.7,0.344],[781.4,0.237],[781.1,0.127],[780.8,0.053],[780.2,0.004],[777,0],[774.4,0]];
const d2Sat1 = [[786.25,0.002],[785.5,0.028],[785.13,0.068],[784.75,0.127],[784.38,0.185],[784.0,0.21],[783.63,0.185],[783.25,0.127],[782.88,0.068],[782.5,0.028],[781.75,0.002]];
const d2Sat2 = [[791.6,0.002],[790.3,0.022],[789.65,0.052],[789.0,0.097],[788.35,0.141],[787.7,0.16],[787.05,0.141],[786.4,0.097],[785.75,0.052],[785.1,0.022],[783.8,0.002]];
const d2Co12 = [[799.35,0.002],[798.7,0.023],[798.38,0.055],[798.05,0.103],[797.73,0.15],[797.4,0.17],[797.08,0.15],[796.75,0.103],[796.43,0.055],[796.1,0.023],[795.45,0.002]];
const d2Sat3 = [[802.4,0.001],[801.6,0.009],[801.2,0.023],[800.8,0.042],[800.4,0.062],[800.0,0.07],[799.6,0.062],[799.2,0.042],[798.8,0.023],[798.4,0.009],[797.6,0.001]];
const d2Sat4 = [[809.2,0],[807.4,0.007],[806.5,0.016],[805.6,0.03],[804.7,0.044],[803.8,0.05],[802.9,0.044],[802.0,0.03],[801.1,0.016],[800.2,0.007],[798.4,0]];
const d3Fit = [[818,0],[810,0],[808.5,0.01],[807.5,0.03],[806.5,0.06],[805.5,0.10],[804.5,0.15],[803.5,0.18],[802.5,0.175],[801.5,0.16],[800.5,0.16],[799.6,0.17],[798.8,0.22],[798.0,0.29],[797.4,0.33],[796.9,0.29],[796.3,0.19],[795.7,0.10],[795.0,0.05],[794.2,0.025],[793.2,0.02],[792.2,0.03],[791.4,0.06],[790.5,0.10],[789.5,0.15],[788.5,0.19],[787.5,0.23],[786.5,0.26],[785.5,0.29],[784.6,0.35],[783.8,0.43],[783.1,0.55],[782.6,0.65],[782.2,0.69],[781.8,0.67],[781.3,0.58],[780.8,0.43],[780.3,0.27],[779.8,0.13],[779.3,0.05],[778.8,0.01],[778.2,0],[774.4,0]];
const d3Co32 = [[818,0],[790,0],[784.15,0.006],[783.4,0.069],[783.03,0.166],[782.65,0.31],[782.28,0.45],[781.9,0.51],[781.53,0.45],[781.15,0.31],[780.78,0.166],[780.4,0.069],[779.65,0.006],[777,0],[774.4,0]];
const d3Sat1 = [[786.3,0.003],[785.5,0.037],[785.1,0.088],[784.7,0.164],[784.3,0.238],[783.9,0.27],[783.5,0.238],[783.1,0.164],[782.7,0.088],[782.3,0.037],[781.5,0.003]];
const d3Sat2 = [[791.6,0.002],[790.2,0.03],[789.5,0.072],[788.8,0.134],[788.1,0.194],[787.4,0.22],[786.7,0.194],[786.0,0.134],[785.3,0.072],[784.6,0.03],[783.2,0.002]];
const d3Co12 = [[799.55,0.003],[798.8,0.034],[798.43,0.081],[798.05,0.152],[797.68,0.22],[797.3,0.25],[796.93,0.22],[796.55,0.152],[796.18,0.081],[795.8,0.034],[795.05,0.003]];
const d3Sat3 = [[802.1,0.001],[801.2,0.018],[800.75,0.042],[800.3,0.079],[799.85,0.115],[799.4,0.13],[798.95,0.115],[798.5,0.079],[798.05,0.042],[797.6,0.018],[796.7,0.001]];
const d3Sat4 = [[808.0,0.002],[806.4,0.024],[805.6,0.059],[804.8,0.109],[804.0,0.159],[803.2,0.18],[802.4,0.159],[801.6,0.109],[800.8,0.059],[800.0,0.024],[798.4,0.002]];

// ---------- colours ----------
const cSp2 = ['rgba(255,112,112,0.92)', '#ff2a2a'];
const cSp3 = ['rgba(112,112,255,0.92)', '#2020ff'];
const cCOC = ['#e6e680', '#c8c820'];
const cCOH = ['#c080e0', '#9a30d0'];
const cCO = ['#40c8c8', '#109090'];
const cCOO = ['#ff80b4', '#e04090'];
const cSat = ['#808080', '#505050'];
const cCH3 = ['#ffaa80', '#ff7030'];
const cNCCN = ['rgba(150,245,175,0.92)', '#20d030'];
const cNCN = ['rgba(170,230,250,0.92)', '#20a8f0'];
const cPyr = ['rgba(160,236,185,0.95)', '#28b828'];
const cNZn = ['rgba(221,184,242,0.95)', '#9a40e0'];
const cNO2 = ['rgba(178,200,245,0.95)', '#2e5ee8'];
const cZn32 = ['#bcbcf6', 'transparent'];
const cZn12 = ['#f8cbb1', 'transparent'];
const cMet = ['rgba(176,198,246,0.9)', '#2050f0'];
const cCo2 = ['rgba(150,234,200,0.65)', '#20c060'];

Chart.defaults.font.family = '"Liberation Sans", Arial, sans-serif';
Chart.defaults.color = '#000';

const pairs = (arr, off) => arr.map(p => ({ x: p[0], y: p[1] + off }));
const grid = (start, step, vals, off) => vals.map((v, k) => ({ x: +(start - step * k).toFixed(2), y: v + off }));

function areas(list, off) {
  return list.map((c, i) => ({
    data: pairs(c[0], off), fill: { value: off },
    backgroundColor: c[1][0], borderColor: c[1][1], borderWidth: 1,
    pointRadius: 0, cubicInterpolationMode: 'monotone', order: 5 + i
  }));
}
function fitLine(arr, off, lw) {
  return { data: pairs(arr, off), borderColor: '#000', borderWidth: lw || 1.2, pointRadius: 0,
    fill: false, cubicInterpolationMode: 'monotone', order: 1 };
}
function dots(pts, r) {
  return { data: pts, showLine: false, pointRadius: r, pointBackgroundColor: '#f00',
    pointBorderWidth: 0, order: 0 };
}
function traceLine(pts, r, order) {
  return { data: pts, showLine: true, borderColor: '#f00', borderWidth: 2.6, pointRadius: r,
    pointBackgroundColor: '#f00', pointBorderWidth: 0, fill: false, order: order };
}

const framePlugin = {
  id: 'frame',
  afterDraw(chart) {
    const { ctx, chartArea: a } = chart;
    ctx.save();
    ctx.strokeStyle = '#000';
    ctx.lineWidth = 1.3;
    ctx.strokeRect(a.left, a.top, a.right - a.left, a.bottom - a.top);
    ctx.restore();
  }
};

function makeChart(id, datasets, xmin, xmax, ymax, ticks, labels, xh, tickPad) {
  return new Chart(document.getElementById(id), {
    type: 'line',
    data: { datasets: datasets },
    plugins: [framePlugin],
    options: {
      animation: false, responsive: false, devicePixelRatio: 1, events: [],
      layout: { padding: { left: 2, right: 2, top: 2, bottom: 0 } },
      plugins: { legend: { display: false }, tooltip: { enabled: false } },
      scales: {
        x: {
          type: 'linear', reverse: true, min: xmin, max: xmax,
          afterBuildTicks: s => { s.ticks = ticks.map(v => ({ value: v })); },
          afterFit: s => { s.height = xh; },
          grid: { drawOnChartArea: false, drawTicks: true, tickLength: 5, color: '#000', tickColor: '#000', tickWidth: 1.2 },
          border: { display: true, color: '#000', width: 1.3 },
          ticks: { autoSkip: false, maxRotation: 0, padding: tickPad, color: '#000', font: { size: 19 },
            callback: v => labels.includes(v) ? String(v) : '' },
          title: { display: true, text: 'Binding Energy (eV)', color: '#000', font: { size: 19 }, padding: { top: 0, bottom: 0 } }
        },
        y: { display: false, min: 0, max: ymax }
      }
    }
  });
}

// ---------- (a) ----------
const aSets = [];
[[a1Data, a1Fit, a1Sp2], [a2Data, a2Fit, a2Sp2]].forEach((s, i) => {
  const off = aOffsets[i];
  aSets.push(traceLine(pairs(s[0], off), 1.4, 1));
  aSets.push(Object.assign(fitLine(s[1], off, 1.5), { order: 0 }));
  aSets.push(...areas([[a12Sp3, cSp3], [a12COC, cCOC], [a12COH, cCOH], [a12CO, cCO], [a12COO, cCOO], [a12Sat, cSat], [s[2], cSp2]], off));
});
aSets.push(traceLine(pairs(a3Data, aOffsets[2]), 1.4, 1));
aSets.push(Object.assign(fitLine(a3Fit, aOffsets[2], 1.5), { order: 0 }));
aSets.push(...areas([[a3Sp3, cSp3], [a3CH3, cCH3], [a3NCCN, cNCCN], [a3NCN, cNCN], [a3Sat, cSat]], aOffsets[2]));
aSets.push(traceLine(pairs(a4Data, aOffsets[3]), 1.4, 1));
aSets.push(Object.assign(fitLine(a4Fit, aOffsets[3], 1.5), { order: 0 }));
aSets.push(...areas([[a4Sp3, cSp3], [a4COC, cCOC], [a4COH, cCOH], [a4CO, cCO], [a4COO, cCOO], [a4Sp2, cSp2]], aOffsets[3]));
makeChart('cA', aSets, 278.95, 298.8, 433 / 60, aTicks, aLabels, 45, 2);

// ---------- (b) ----------
const bSets = [];
[[b1Data, b1Fit, b1Pyr, b1NZn, b1NO2], [b2Data, b2Fit, b2Pyr, b2NZn, b2NO2]].forEach((s, i) => {
  const off = bOffsets[i];
  bSets.push(dots(grid(bStart, bStep, s[0], off), 1.9));
  bSets.push(fitLine(s[1], off));
  bSets.push(...areas([[s[2], cPyr], [s[3], cNZn], [s[4], cNO2]], off));
});
bSets.push(dots(grid(bStart, bStep, b3Data, bOffsets[2]), 1.9));
bSets.push(fitLine(b3Fit, bOffsets[2]));
bSets.push(...areas([[b3Pyr, cPyr], [b3NZn, cNZn]], bOffsets[2]));
makeChart('cB', bSets, 394.32, 406.42, 433 / 94, bTicks, bLabels, 45, 2);

// ---------- (c) ----------
const cSets = [];
[[c1Data, c1DataB, c1Fit, c1P32, c1P12], [c2Data, c2DataB, c2Fit, c2P32, c2P12]].forEach((s, i) => {
  const off = cOffsets[i];
  cSets.push(dots(grid(cStart, cStep, s[0], off), 1.6));
  cSets.push(dots(grid(cStartB, cStep, s[1], off), 1.6));
  cSets.push(fitLine(s[2], off));
  cSets.push(...areas([[s[3], cZn32], [s[4], cZn12]], off));
});
cSets.push(traceLine(grid(cStart, c3Step, c3Data, cOffsets[2]), 1.5, 0));
cSets.push(fitLine(c3Fit, cOffsets[2]));
cSets.push(...areas([[c3P32, cZn32], [c3P12, cZn12]], cOffsets[2]));
makeChart('cC', cSets, 1012.97, 1065.05, 429 / 95, cTicks, cLabels, 49, 3);

// ---------- (d) ----------
const dSets = [];
dSets.push(dots(grid(dStart, dStep, d1Data, dOffsets[0]), 1.7));
dSets.push(dots(grid(dStartB, dStep, d1DataB, dOffsets[0]), 1.7));
dSets.push(fitLine(d1Fit, dOffsets[0], 1.0));
dSets.push(...areas([[d1Met32, cMet], [d1Met12, cMet], [d1Co32, cCo2], [d1Sat1, cCo2], [d1Sat2, cCo2], [d1Co12, cCo2], [d1Sat3, cCo2], [d1Sat4, cCo2]], dOffsets[0]));
dSets.push(dots(grid(dStart, dStep, d2Data, dOffsets[1]), 1.7));
dSets.push(dots(grid(dStartB, dStep, d2DataB, dOffsets[1]), 1.7));
dSets.push(fitLine(d2Fit, dOffsets[1], 1.0));
dSets.push(...areas([[d2Met32, cMet], [d2Met12, cMet], [d2Co32, cCo2], [d2Sat1, cCo2], [d2Sat2, cCo2], [d2Co12, cCo2], [d2Sat3, cCo2], [d2Sat4, cCo2]], dOffsets[1]));
dSets.push(dots(grid(dStart, dStep, d3Data, dOffsets[2]), 1.7));
dSets.push(dots(grid(dStartB, dStep, d3DataB, dOffsets[2]), 1.7));
dSets.push(fitLine(d3Fit, dOffsets[2], 1.0));
dSets.push(...areas([[d3Co32, cCo2], [d3Sat1, cCo2], [d3Sat2, cCo2], [d3Co12, cCo2], [d3Sat3, cCo2], [d3Sat4, cCo2]], dOffsets[2]));
makeChart('cD', dSets, 774.45, 818.0, 429 / 100, dTicks, dLabels, 49, 3);

// ---------- text overlays ----------
function addText(html, x, y, size, align) {
  const d = document.createElement('div');
  d.className = 'lbl';
  d.innerHTML = html;
  d.style.fontSize = size + 'px';
  d.style.top = y + 'px';
  if (align === 'right') d.style.right = (673 - x) + 'px';
  else d.style.left = x + 'px';
  document.body.appendChild(d);
}
function legendLeft(rows, x, y0, dy, gap) {
  rows.forEach((r, i) => addText('<span class="box" style="background:' + r[1] + ';margin-right:' + gap + 'px"></span><span style="vertical-align:middle">' + r[0] + '</span>', x, y0 + dy * i, 19));
}
function legendRight(rows, xRight, y0, dy, gap, bw) {
  rows.forEach((r, i) => addText('<span style="vertical-align:middle">' + r[0] + '</span><span class="box" style="background:' + r[1] + ';margin-left:' + gap + 'px;width:' + bw + 'px"></span>', xRight, y0 + dy * i, 19, 'right'));
}
function yTitle(cx, cy) {
  const d = document.createElement('div');
  d.className = 'ytitle';
  d.textContent = 'Normalised Intensity (arb. units)';
  d.style.left = (cx - 160) + 'px';
  d.style.top = (cy - 10) + 'px';
  document.body.appendChild(d);
}

yTitle(23, 226);
yTitle(24, 710);

addText('(a) C 1s', 48, 32, 22);
addText('(b) N 1s', 353, 32, 22);
addText('(c) Zn 2p', 46, 533, 22);
addText('(d) Co 2p', 334, 533, 22);

legendLeft([['C sp<sup>2</sup>', '#ff7f7f'], ['C sp<sup>3</sup>, C<sub>adv</sub>', '#7f7fff'], ['C-O-C', '#e6e680'],
  ['C-OH, C-NH', '#c080e0'], ['C=O', '#40c8c8'], ['COO<sup>-</sup>, COOH', '#ff80b4']], 46, 60, 23.8, 4);
legendRight([['&pi; - &pi;<sup>*</sup> sat', '#808080'], ['CH<sub>3</sub>(im)', '#ffaa80'], ['N-C-C-N(im)', '#a0f5b8'], ['N-C-N(im)', '#aee8fa']], 345, 55, 27, 2, 18);
legendRight([['Surface pyridyl N', '#a8ecbf'], ['N-Zn, N-Co', '#ddb8f2'], ['nitrite, -NO<sub>2</sub>', '#b3c8f5']], 679, 26, 26, 5, 17);
legendRight([['Zn 2p<sub>3/2</sub>', '#bcbcf6'], ['Zn 2p<sub>1/2</sub>', '#f8cbb1']], 323, 526, 24.5, 11, 17);
legendRight([['Co metal', '#b3c8f5'], ['Co(II)', '#a6ecd0']], 668, 529, 24.5, 13, 18);

[['i)', 205], ['ii)', 277], ['iii)', 348], ['iv)', 427]].forEach(l => addText(l[0], 47, l[1], 19));
[['i)', 160], ['ii)', 290], ['iii)', 422]].forEach(l => addText(l[0], 350, l[1], 19));
[['i)', 658], ['ii)', 777], ['iii)', 912]].forEach(l => addText(l[0], 43, l[1], 19));
[['i)', 678], ['ii)', 808]].forEach(l => addText(l[0], 345, l[1], 19));

addText('2p<sub>1/2</sub>', 492, 642, 19);
addText('2p<sub>3/2</sub>', 622, 587, 19);
</script>
</body>
</html>
